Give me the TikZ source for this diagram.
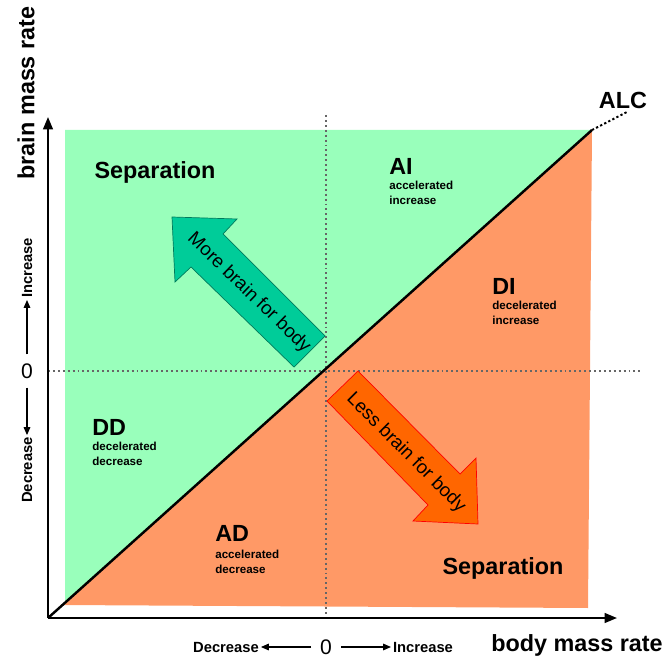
\documentclass[tikz,border=0pt]{standalone}
\usepackage{fontspec}
\setmainfont{Liberation Sans}
\usepackage{tikz}
\usetikzlibrary{arrows.meta}

\definecolor{upgreen}{RGB}{153,255,187}
\definecolor{loworange}{RGB}{255,153,102}
\definecolor{moregreen}{RGB}{0,204,153}
\definecolor{lessorange}{RGB}{255,102,0}

\tikzset{
  big/.style={font=\fontsize{13.3}{16}\selectfont\bfseries, inner sep=0pt},
  small/.style={font=\fontsize{6.6}{8.5}\selectfont\bfseries, align=left, inner sep=0pt},
  dirlbl/.style={font=\fontsize{8.4}{10}\selectfont\bfseries, inner sep=1pt},
  zerolbl/.style={font=\fontsize{12}{14}\selectfont, inner sep=5pt},
  dirarrow/.style={line width=0.6pt, -{Triangle[length=4.5pt,width=3.8pt]}},
  axis/.style={line width=1.15pt, -{Triangle[length=7pt,width=5.5pt]}},
  grid dots/.style={gray!80!black, line width=1.1pt, dash pattern=on 1.1pt off 1.7pt},
  arrowtext/.style={font=\fontsize{10.7}{12}\selectfont, inner sep=0pt}
}

\begin{document}
\begin{tikzpicture}[x=0.02cm,y=-0.02cm]
\useasboundingbox (0,0) rectangle (669,658);

% regions above and below the line
\fill[upgreen] (65,130) -- (592,130) -- (65,604) -- cycle;
\fill[loworange] (62,605) -- (592,130) -- (588,608) -- cycle;

% zero lines
\draw[grid dots] (326,115) -- (326,618);
\draw[grid dots] (48,371) -- (640,371);

% axes
\coordinate (O) at (48,618);
\coordinate (xtip) at (617,618);
\coordinate (ytip) at (48,117);
\draw[axis] (O) -- (xtip);
\draw[axis] (O) -- (ytip);

% allometric line
\coordinate (alc) at (592,130);
\coordinate (alcend) at (627,112);
\draw[line width=1.4pt] (O) -- (alc);
\draw[line width=1.1pt, dash pattern=on 1.3pt off 1.3pt] (alc) -- (alcend);
\node[big] (alclbl) at (623,100) {ALC};

% block arrows
\draw[moregreen!60!black, fill=moregreen, line width=0.4pt]
  (172,217) -- (237,219) -- (223,234) -- (325,336) -- (294,367) -- (191,267) -- (175,282) -- cycle;
\node[arrowtext, rotate=-44] (more) at (249,293) {More brain for body};

\draw[red, fill=lessorange, line width=0.4pt]
  (358,371) -- (460,474) -- (476,458) -- (478,524) -- (413,521) -- (428,505) -- (327,401) -- cycle;
\node[arrowtext, rotate=-45] (less) at (406,453) {Less brain for body};

% quadrant labels
\node[big] (sepup) at (155,172) {Separation};
\node[big] (seplow) at (503,568) {Separation};

\node[big, anchor=west] (ai) at (389,166) {AI};
\node[small, anchor=north west] (aitxt) at (389,181) {accelerated\\increase};

\node[big, anchor=west] (di) at (492,286) {DI};
\node[small, anchor=north west] (ditxt) at (492,301) {decelerated\\increase};

\node[big, anchor=west] (dd) at (92,427) {DD};
\node[small, anchor=north west] (ddtxt) at (92,442) {decelerated\\decrease};

\node[big, anchor=west] (ad) at (215,533) {AD};
\node[small, anchor=north west] (adtxt) at (215,550) {accelerated\\decrease};

% axis titles
\node[big, rotate=90] (ytitle) at (26,93) {brain mass rate};
\node[big] (xtitle) at (577,645) {body mass rate};

% direction keys
\node[zerolbl] (zerob) at (326,647) {0};
\node[dirlbl] (decb) at (226,647) {Decrease};
\node[dirlbl] (incb) at (423,647) {Increase};
\draw[dirarrow] (zerob) -- (decb);
\draw[dirarrow] (zerob) -- (incb);

\node[zerolbl] (zerol) at (27,371) {0};
\node[dirlbl, rotate=90] (incl) at (27,268) {Increase};
\node[dirlbl, rotate=90] (decl) at (27,470) {Decrease};
\draw[dirarrow] (zerol) -- (incl);
\draw[dirarrow] (zerol) -- (decl);
\end{tikzpicture}
\end{document}
